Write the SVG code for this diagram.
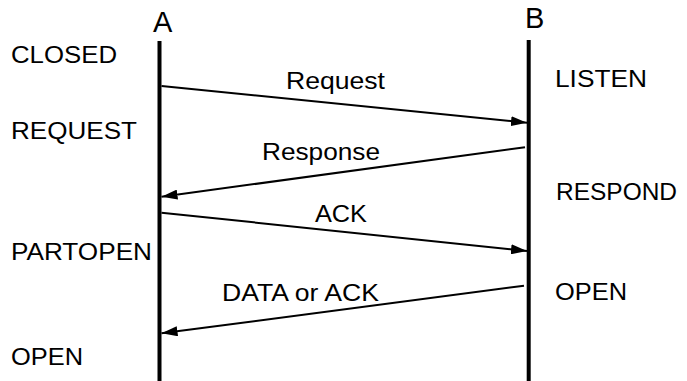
<svg xmlns="http://www.w3.org/2000/svg" width="687" height="381" viewBox="0 0 687 381">
<defs>
<style>
text{font-family:"Liberation Sans",Arial,sans-serif;fill:#000}
.st{font-size:24px}
.lb{font-size:24px}
.hd{font-size:29px}
.life{stroke:#000;stroke-width:4;fill:none}
.msg{stroke:#000;stroke-width:2;fill:none;marker-end:url(#ah)}
</style>
<marker id="ah" viewBox="0 0 16 10" refX="16" refY="5" markerWidth="16" markerHeight="10" markerUnits="userSpaceOnUse" orient="auto">
<path d="M0,0 L16,5 L0,10 Z" fill="#000"/>
</marker>
</defs>
<rect width="687" height="381" fill="#fff"/>
<g id="A">
<line class="life" x1="159.5" y1="41" x2="159.5" y2="381"/>
<text class="hd" x="153" y="32">A</text>
</g>
<g id="B">
<line class="life" x1="528.7" y1="40" x2="528.7" y2="381"/>
<text class="hd" x="525" y="28">B</text>
</g>
<g id="states-A">
<text class="st" x="11" y="63" textLength="106" lengthAdjust="spacingAndGlyphs">CLOSED</text>
<text class="st" x="11" y="139" textLength="126" lengthAdjust="spacingAndGlyphs">REQUEST</text>
<text class="st" x="11" y="260" textLength="141" lengthAdjust="spacingAndGlyphs">PARTOPEN</text>
<text class="st" x="11" y="365" textLength="72" lengthAdjust="spacingAndGlyphs">OPEN</text>
</g>
<g id="states-B">
<text class="st" x="555" y="87" textLength="92" lengthAdjust="spacingAndGlyphs">LISTEN</text>
<text class="st" x="556" y="200" textLength="121" lengthAdjust="spacingAndGlyphs">RESPOND</text>
<text class="st" x="555" y="300" textLength="72" lengthAdjust="spacingAndGlyphs">OPEN</text>
</g>
<g id="connectors">
<line class="msg" x1="161.5" y1="86" x2="527" y2="122.7"/>
<line class="msg" x1="525" y1="147.3" x2="161.5" y2="196.7"/>
<line class="msg" x1="161.5" y1="212.7" x2="527" y2="251"/>
<line class="msg" x1="524" y1="285.7" x2="161.5" y2="333.3"/>
</g>
<g id="labels">
<text class="lb" x="286" y="89" textLength="99" lengthAdjust="spacingAndGlyphs">Request</text>
<text class="lb" x="262" y="160" textLength="118" lengthAdjust="spacingAndGlyphs">Response</text>
<text class="lb" x="315" y="222" textLength="52" lengthAdjust="spacingAndGlyphs">ACK</text>
<text class="lb" x="222" y="301" textLength="157" lengthAdjust="spacingAndGlyphs">DATA or ACK</text>
</g>
</svg>
